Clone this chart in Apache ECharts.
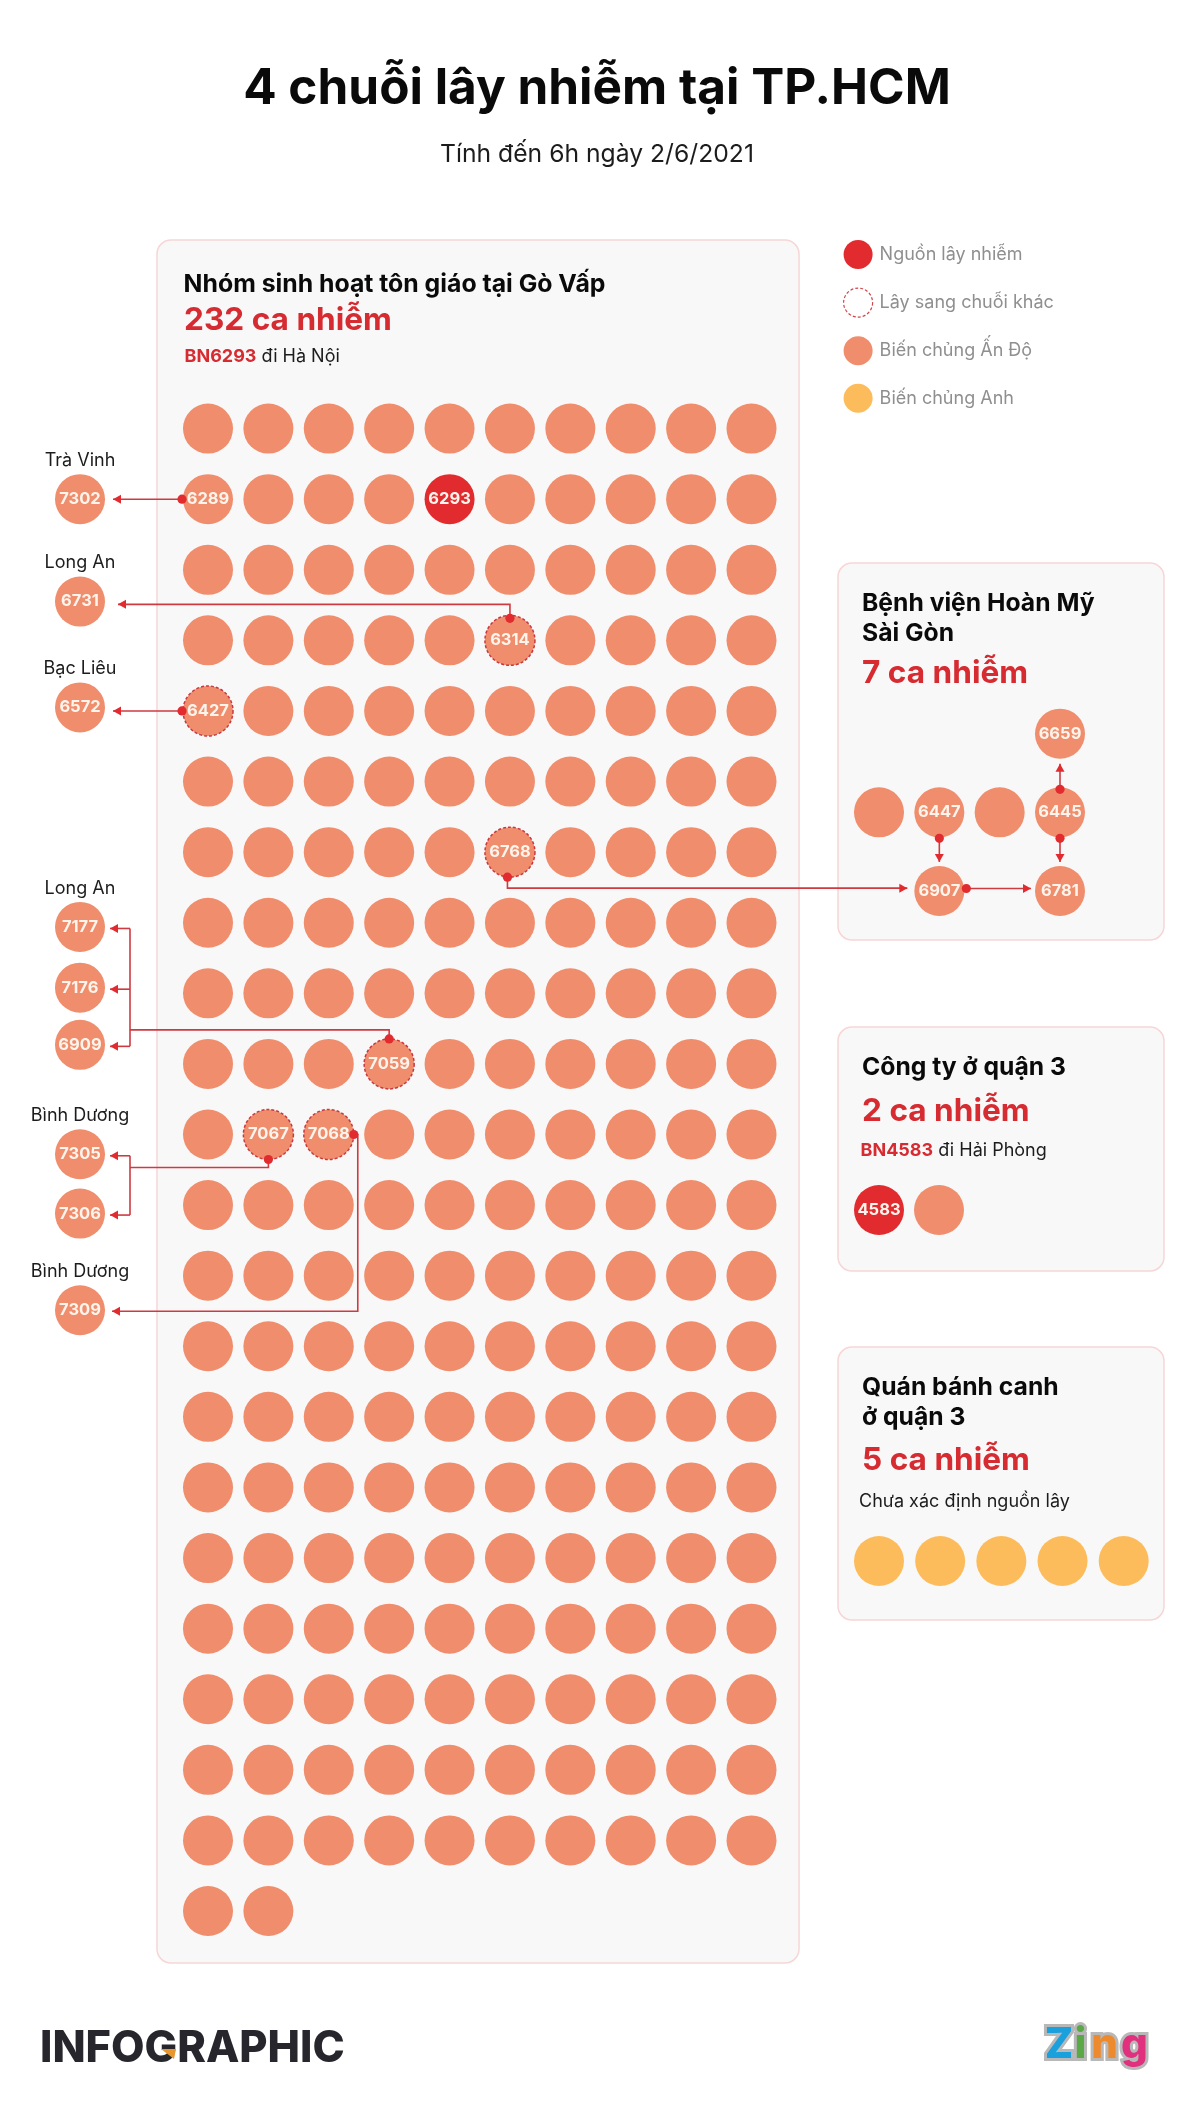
<!DOCTYPE html>
<html>
<head>
<meta charset="utf-8">
<title>4 chuỗi lây nhiễm tại TP.HCM</title>
<style>
  html, body { margin: 0; padding: 0; background: #fff; }
  #chart { width: 1200px; height: 2115px; }
</style>
<script src="https://cdn.jsdelivr.net/npm/echarts@6/dist/echarts.min.js"></script>
</head>
<body>
<div id="chart"></div>
<script>
// data
const legendNames = ['Nguồn lây nhiễm', 'Lây sang chuỗi khác', 'Biến chủng Ấn Độ', 'Biến chủng Anh'];

const mainDotCount = 212;
const mainColumns = 10;
const mainLabelIds = [6289, 6293, 6314, 6427, 6768, 7059, 7067, 7068];
const mainLabelOrder = [10, 14, 35, 40, 65, 93, 101, 102];
const mainSourceIds = [6293];
const mainSpreadIds = [6314, 6427, 6768, 7059, 7067, 7068];

const sideIds = [7302, 6731, 6572, 7177, 7176, 6909, 7305, 7306, 7309];
const sideRows = [1, 2.45, 3.95, 7.06, 7.92, 8.73, 10.28, 11.12, 12.49];
const sidePlaces = [
  ['Trà Vinh', 7302], ['Long An', 6731], ['Bạc Liêu', 6572], ['Long An', 7177],
  ['Bình Dương', 7305], ['Bình Dương', 7309]
];

const hospitalIds = [null, 6447, null, 6445, 6907, 6781, 6659];
const hospitalCols = [0, 1, 2, 3, 1, 3, 3];
const hospitalRows = [1, 1, 1, 1, 2, 2, 0];

const companyIds = [4583, null];
const noodleDotCount = 5;

// layout and colours
const RED = '#e12b2f', ORANGE = '#ef8d6c', YELLOW = '#fdbc5b', LINE = '#cf3a40', TITLE_RED = '#d52b31';
const FONT = 'Inter, "Noto Sans", sans-serif';
const DOT = 50;

const grids = [
  { left: 208, top: 428.6, width: 543.5, height: 1482.4 },  // main
  { left: 80, top: 428.6, width: 10, height: 1482.4 },      // side
  { left: 879, top: 733.7, width: 181, height: 157.3 },     // hospital
  { left: 879, top: 1210, width: 60, height: 10 },          // company
  { left: 879, top: 1561, width: 244.7, height: 10 }        // noodle
];
const xRanges = [[0, 9], [0, 1], [0, 3], [0, 1], [0, 4]];
const yRanges = [[0, 21], [0, 21], [0, 2], [0, 1], [0, 1]];

const nodeLabel = {
  show: true, position: 'inside', color: '#fdf4ec', fontFamily: FONT, fontWeight: 700, fontSize: 16.5,
  formatter: p => p.data[2] || ''
};

function dots(name, gridIndex, color, data, extra) {
  return Object.assign({
    name, type: 'scatter', xAxisIndex: gridIndex, yAxisIndex: gridIndex, clip: false,
    symbol: 'circle', symbolSize: DOT, silent: true, z: 3,
    itemStyle: { color, opacity: 1 }, label: nodeLabel, data
  }, extra || {});
}

const mainPts = { src: [], spread: [], plain: [] };
for (let i = 0; i < mainDotCount; i++) {
  const at = mainLabelOrder.indexOf(i);
  const id = at >= 0 ? mainLabelIds[at] : null;
  const pt = [i % mainColumns, Math.floor(i / mainColumns), id];
  if (mainSourceIds.includes(id)) mainPts.src.push(pt);
  else if (mainSpreadIds.includes(id)) mainPts.spread.push(pt);
  else mainPts.plain.push(pt);
}

const series = [
  dots(legendNames[0], 0, RED, mainPts.src),
  dots(legendNames[1], 0, ORANGE, mainPts.spread, {
    itemStyle: { color: ORANGE, opacity: 1, borderColor: '#c8393f', borderWidth: 1.5, borderType: [3, 2] }
  }),
  dots(legendNames[2], 0, ORANGE, mainPts.plain),
  dots(legendNames[2], 1, ORANGE, sideIds.map((id, i) => [0, sideRows[i], id])),
  dots(legendNames[2], 2, ORANGE, hospitalIds.map((id, i) => [hospitalCols[i], hospitalRows[i], id])),
  dots(legendNames[0], 3, RED, [[0, 0, companyIds[0]]]),
  dots(legendNames[2], 3, ORANGE, [[1, 0, companyIds[1]]]),
  dots(legendNames[3], 4, YELLOW, Array.from({ length: noodleDotCount }, (_, i) => [i, 0, null]))
];

const option = {
  backgroundColor: '#fff',
  animation: false,
  title: [
    { text: '4 chuỗi lây nhiễm tại TP.HCM', left: 592, top: 59, textAlign: 'center',
      textStyle: { fontFamily: FONT, fontSize: 49.5, fontWeight: 700, color: '#0a0a0a' } },
    { text: 'Tính đến 6h ngày 2/6/2021', left: 592, top: 137, textAlign: 'center',
      textStyle: { fontFamily: FONT, fontSize: 24.7, fontWeight: 400, color: '#1c1c1c' } }
  ],
  legend: {
    orient: 'vertical', left: 838, top: 235, itemWidth: 29, itemHeight: 29, itemGap: 18.5,
    selectedMode: false, icon: 'circle',
    textStyle: { fontFamily: FONT, fontSize: 18, color: '#8f8f8f', padding: [4, 0, 0, 2] },
    data: [
      { name: legendNames[0], itemStyle: { color: RED } },
      { name: legendNames[1], itemStyle: { color: 'rgba(0,0,0,0)', borderColor: '#d0454a', borderWidth: 1.2, borderType: [3, 2] } },
      { name: legendNames[2], itemStyle: { color: ORANGE } },
      { name: legendNames[3], itemStyle: { color: YELLOW } }
    ]
  },
  grid: grids,
  xAxis: grids.map((g, i) => ({ type: 'value', gridIndex: i, show: false, min: xRanges[i][0], max: xRanges[i][1] })),
  yAxis: grids.map((g, i) => ({ type: 'value', gridIndex: i, show: false, inverse: true, min: yRanges[i][0], max: yRanges[i][1] })),
  series
};

const chart = echarts.init(document.getElementById('chart'));
chart.setOption(option);

// node positions come back from the axes, connectors and captions hang off them
const nodes = {};
function keep(id, gridIndex, x, y) {
  if (id) nodes[id] = chart.convertToPixel({ gridIndex }, [x, y]);
}
mainLabelIds.forEach((id, i) => keep(id, 0, mainLabelOrder[i] % mainColumns, Math.floor(mainLabelOrder[i] / mainColumns)));
sideIds.forEach((id, i) => keep(id, 1, 0, sideRows[i]));
hospitalIds.forEach((id, i) => keep(id, 2, hospitalCols[i], hospitalRows[i]));
const at = id => ({ x: nodes[id][0], y: nodes[id][1] });

const gfx = [];

function panel(x, y, w, h) {
  gfx.push({ type: 'rect', z: 0, silent: true, shape: { x, y, width: w, height: h, r: 14 },
    style: { fill: '#f8f8f8', stroke: '#f6d6d6', lineWidth: 1.5 } });
}
function text(x, y, str, size, weight, color, align) {
  gfx.push({ type: 'text', z: 5, silent: true, x, y,
    style: { text: str, fontFamily: FONT, fontSize: size, fontWeight: weight, fill: color,
      align: align || 'left', verticalAlign: 'middle' } });
}
function mixed(x, y, strong, rest) {
  gfx.push({ type: 'text', z: 5, silent: true, x, y,
    style: {
      text: '{a|' + strong + '} {b|' + rest + '}', align: 'left', verticalAlign: 'middle',
      fontFamily: FONT, fontSize: 18,
      rich: {
        a: { fontFamily: FONT, fontSize: 18, fontWeight: 700, fill: TITLE_RED, color: TITLE_RED },
        b: { fontFamily: FONT, fontSize: 18, fontWeight: 400, fill: '#1c1c1c', color: '#1c1c1c' }
      }
    } });
}
function wire(points) {
  gfx.push({ type: 'polyline', z: 8, silent: true, shape: { points },
    style: { stroke: LINE, lineWidth: 1.6, fill: null } });
}
function startDot(p) {
  gfx.push({ type: 'circle', z: 9, silent: true, shape: { cx: p[0], cy: p[1], r: 4.6 }, style: { fill: RED } });
}
function arrowHead(tip, dx, dy) {
  const len = 8, half = 4.5;
  gfx.push({ type: 'polygon', z: 9, silent: true, shape: { points: [
    tip,
    [tip[0] - dx * len - dy * half, tip[1] - dy * len - dx * half],
    [tip[0] - dx * len + dy * half, tip[1] - dy * len + dx * half]
  ] }, style: { fill: RED } });
}
function link(points, dx, dy) {
  wire(points);
  startDot(points[0]);
  arrowHead(points[points.length - 1], dx, dy);
}
// one source feeding several side nodes through a vertical bus
function busLink(fromId, toIds, exitDy, laneDy) {
  const s = at(fromId), busX = 130, tipX = 110;
  const tips = toIds.map(id => at(id).y + 1.5);
  const lane = s.y + laneDy;
  wire([[s.x, s.y + exitDy], [s.x, lane], [busX, lane]]);
  wire([[busX, tips[0]], [busX, tips[tips.length - 1]]]);
  startDot([s.x, s.y + exitDy]);
  tips.forEach(y => {
    wire([[busX, y], [tipX, y]]);
    arrowHead([tipX, y], -1, 0);
  });
}

panel(157, 240, 642, 1723);
panel(838, 563, 326, 377);
panel(838, 1027, 326, 244);
panel(838, 1347, 326, 273);

text(183.6, 285, 'Nhóm sinh hoạt tôn giáo tại Gò Vấp', 24.8, 700, '#0a0a0a');
text(184, 320.5, '232 ca nhiễm', 31.6, 700, TITLE_RED);
mixed(184.5, 357, 'BN6293', 'đi Hà Nội');

text(862, 604, 'Bệnh viện Hoàn Mỹ', 24.7, 700, '#0a0a0a');
text(862, 634, 'Sài Gòn', 24.7, 700, '#0a0a0a');
text(862, 673.5, '7 ca nhiễm', 31.6, 700, TITLE_RED);

text(862, 1067.5, 'Công ty ở quận 3', 24.7, 700, '#0a0a0a');
text(862, 1111.5, '2 ca nhiễm', 31.6, 700, TITLE_RED);
mixed(860.5, 1151, 'BN4583', 'đi Hải Phòng');

text(862, 1388, 'Quán bánh canh', 24.7, 700, '#0a0a0a');
text(862, 1418, 'ở quận 3', 24.7, 700, '#0a0a0a');
text(862, 1460.5, '5 ca nhiễm', 31.6, 700, TITLE_RED);
text(859, 1501.5, 'Chưa xác định nguồn lây', 18, 400, '#1c1c1c');

sidePlaces.forEach(([name, id]) => text(at(id).x, at(id).y - 38.5, name, 18, 400, '#1c1c1c', 'center'));

// connectors
[[6289, 7302], [6427, 6572]].forEach(([a, b]) => {
  const s = at(a), t = at(b);
  link([[s.x - 26, s.y], [t.x + 33, s.y]], -1, 0);
});
{
  const s = at(6314), t = at(6731);
  link([[s.x, s.y - 22], [s.x, s.y - 36], [t.x + 38, s.y - 36]], -1, 0);
}
{
  const s = at(6768), t = at(6907);
  link([[s.x - 2.5, s.y + 25], [s.x - 2.5, s.y + 36], [t.x - 32, s.y + 36]], 1, 0);
}
{
  const s = at(6907), t = at(6781);
  link([[s.x + 27, s.y - 2.5], [t.x - 29, s.y - 2.5]], 1, 0);
}
[[6447, 6907], [6445, 6781]].forEach(([a, b]) => {
  const s = at(a), t = at(b);
  link([[s.x, s.y + 26], [s.x, t.y - 29]], 0, 1);
});
{
  const s = at(6445), t = at(6659);
  link([[s.x, s.y - 23], [s.x, t.y + 30]], 0, -1);
}
busLink(7059, [7177, 7176, 6909], -25, -34);
busLink(7067, [7305, 7306], 25, 33);
{
  const s = at(7068), t = at(7309);
  link([[s.x + 25, s.y], [s.x + 29, s.y], [s.x + 29, t.y + 1], [t.x + 32, t.y + 1]], -1, 0);
}

// footer marks
text(40, 2049, 'INFOGRAPHIC', 43.4, 800, '#26262c');
gfx.push({ type: 'polygon', z: 6, silent: true, shape: { points: [[161, 2049], [176, 2049], [174, 2059]] }, style: { fill: '#e8962e' } });
const zingLetters = ['Z', 'i', 'n', 'g'];
const zingColors = ['#1aa0dc', '#5aa846', '#ee8a2e', '#e0307e'];
const zingX = [1059, 1080.5, 1104.5, 1134.5];
zingLetters.forEach((ch, i) => {
  gfx.push({ type: 'text', z: 5, silent: true, x: zingX[i], y: 2045,
    style: { text: ch, align: 'center', verticalAlign: 'middle', fontFamily: FONT, fontSize: 42, fontWeight: 800,
      fill: zingColors[i], stroke: '#b8b8b8', lineWidth: 6, strokeFirst: true } });
});

chart.setOption({ graphic: { elements: gfx } });
</script>
</body>
</html>
